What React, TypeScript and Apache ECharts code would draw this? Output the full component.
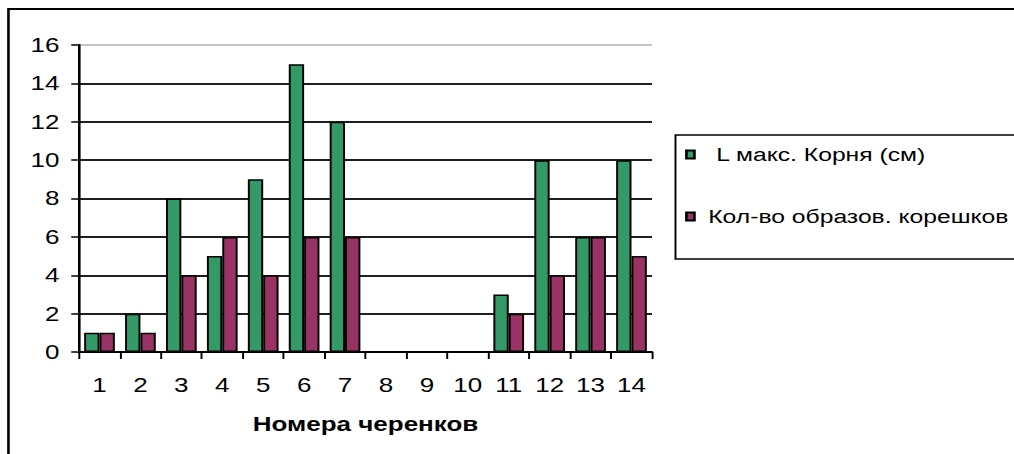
import React, { useEffect, useRef } from "react";
import * as echarts from "echarts";

const categories = ["1", "2", "3", "4", "5", "6", "7", "8", "9", "10", "11", "12", "13", "14"];
const rootLengthName = "L макс. Корня (см)";
const rootCountName = "Кол-во образов. корешков";
const rootLength = [1, 2, 8, 5, 9, 15, 12, 0, 0, 0, 3, 10, 6, 10];
const rootCount = [1, 1, 4, 6, 4, 6, 6, 0, 0, 0, 2, 4, 6, 5];
const yMin = 0;
const yMax = 16;
const yInterval = 2;
const xAxisTitle = "Номера черенков";

const STRETCH = 1.3;
const W = 780;
const H = 454;
const FONT = "'Liberation Sans', Arial, sans-serif";

export default function App() {
  const ref = useRef<HTMLDivElement>(null);
  useEffect(() => {
    const chart = echarts.init(ref.current!, null, { renderer: "svg" });
    const gridColors: string[] = [];
    for (let v = yMin; v <= yMax; v += yInterval) {
      gridColors.push(v === yMax ? "#c4c4c4" : "#1e1e1e");
    }
    chart.setOption({
      animation: false,
      backgroundColor: "#ffffff",
      textStyle: { fontFamily: FONT },
      grid: { left: 60.8, top: 45, right: W - 501.5, bottom: H - 352, containLabel: false },
      legend: [
        {
          data: [rootLengthName],
          left: 527,
          top: 145,
          padding: 0,
          itemWidth: 6.2,
          itemHeight: 8,
          icon: "rect",
          textStyle: { fontSize: 19, color: "#000", fontFamily: FONT, padding: [0, 0, 0, 11.8] },
        },
        {
          data: [rootCountName],
          left: 527,
          top: 207,
          padding: 0,
          itemWidth: 6.2,
          itemHeight: 8,
          icon: "rect",
          textStyle: { fontSize: 19, color: "#000", fontFamily: FONT, padding: [0, 0, 0, 5.6] },
        },
      ],
      graphic: [
        {
          type: "rect",
          silent: true,
          z: -1,
          shape: { x: 6.5, y: 9, width: 900, height: 600 },
          style: { fill: "none", stroke: "#000", lineWidth: 2 },
        },
        {
          type: "rect",
          silent: true,
          z: -1,
          shape: { x: 519.6, y: 135, width: 400, height: 124 },
          style: { fill: "none", stroke: "#000", lineWidth: 1.5 },
        },
      ],
      xAxis: {
        type: "category",
        data: categories,
        boundaryGap: true,
        name: xAxisTitle,
        nameLocation: "middle",
        nameGap: 62,
        nameTextStyle: { fontSize: 20, fontWeight: "bold", color: "#000", fontFamily: FONT },
        axisLine: { show: true, lineStyle: { color: "#000", width: 2 } },
        axisTick: { show: true, alignWithLabel: false, length: 7, lineStyle: { color: "#000", width: 1.5 } },
        axisLabel: { fontSize: 20, color: "#000", margin: 23, fontFamily: FONT, interval: 0 },
        splitLine: { show: false },
      },
      yAxis: {
        type: "value",
        min: yMin,
        max: yMax,
        interval: yInterval,
        axisLine: { show: true, lineStyle: { color: "#000", width: 2 } },
        axisTick: { show: true, length: 6, lineStyle: { color: "#000", width: 1.5 } },
        axisLabel: { fontSize: 20, color: "#000", margin: 15, fontFamily: FONT },
        splitLine: { show: true, lineStyle: { color: gridColors, width: 2 } },
      },
      series: [
        {
          name: rootLengthName,
          type: "bar",
          data: rootLength,
          barGap: "0%",
          barCategoryGap: "25%",
          itemStyle: { color: "#339966", borderColor: "#000", borderWidth: 1.5 },
        },
        {
          name: rootCountName,
          type: "bar",
          data: rootCount,
          barGap: "0%",
          barCategoryGap: "25%",
          itemStyle: { color: "#993366", borderColor: "#000", borderWidth: 1.5 },
        },
      ],
    });
    return () => chart.dispose();
  }, []);
  return (
    <div
      ref={ref}
      style={{
        position: "absolute",
        left: 0,
        top: 0,
        width: W,
        height: H,
        transform: `scaleX(${STRETCH})`,
        transformOrigin: "0 0",
        background: "#fff",
      }}
    />
  );
}
